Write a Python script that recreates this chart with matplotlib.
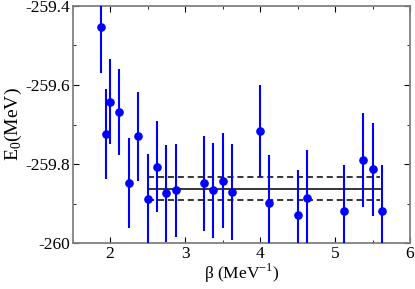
import matplotlib
matplotlib.use("Agg")
import matplotlib.pyplot as plt
from matplotlib.ticker import MultipleLocator

plt.rcParams["font.family"] = ["Liberation Serif", "DejaVu Serif"]
plt.rcParams["mathtext.fontset"] = "custom"
plt.rcParams["mathtext.rm"] = "Liberation Serif"

# beta (MeV^-1), E0 (MeV), symmetric error
beta = [1.875, 1.94, 2.0, 2.125, 2.25, 2.375, 2.5, 2.625, 2.75, 2.875,
        3.25, 3.375, 3.5, 3.625, 4.0, 4.125, 4.5, 4.625, 5.125, 5.375, 5.5, 5.625]
energy = [-259.454, -259.724, -259.642, -259.668, -259.847, -259.730, -259.888, -259.806,
          -259.874, -259.866, -259.848, -259.866, -259.842, -259.870, -259.716, -259.898,
          -259.928, -259.886, -259.918, -259.789, -259.813, -259.918]
err = [0.117, 0.113, 0.108, 0.108, 0.113, 0.113, 0.114, 0.114, 0.122, 0.117,
       0.12, 0.12, 0.12, 0.121, 0.117, 0.12, 0.112, 0.121, 0.117, 0.118, 0.117, 0.117]

fit_range = [2.5, 5.625]
fit_mean = -259.863
fit_band = [-259.833, -259.891]

fig = plt.figure(figsize=(4.15, 2.89), dpi=100)
ax = fig.add_axes([0.1747, 0.158, 0.8133, 0.822])

ax.errorbar(beta, energy, yerr=err, fmt="o", color="#0000ff", ms=5.2,
            elinewidth=1.5, capsize=0, zorder=3)
ax.plot(fit_range, [fit_mean, fit_mean], color="black", lw=1.1, zorder=2)
for b in fit_band:
    ax.plot([fit_range[0], 5.6], [b, b], color="black", lw=1.1, ls=(0, (4, 2.5)), zorder=2)

ax.set_xlim(1.5, 6)
ax.set_ylim(-260, -259.4)
ax.xaxis.set_major_locator(MultipleLocator(1))
ax.xaxis.set_minor_locator(MultipleLocator(0.5))
ax.yaxis.set_major_locator(MultipleLocator(0.2))
ax.yaxis.set_minor_locator(MultipleLocator(0.1))
ax.set_yticklabels([f"{v:g}" for v in ax.get_yticks()])

ax.tick_params(which="both", direction="in", top=True, right=True, labelsize=12.5,
               color="black", pad=2)
ax.tick_params(which="major", length=4)
ax.tick_params(which="minor", length=2.5)
for s in ax.spines.values():
    s.set_color("#808080")
    s.set_linewidth(1.3)

ax.set_xlabel("β (MeV$^{\\mathrm{-1}}$)", fontsize=12.5, labelpad=0)
ax.set_ylabel("E$_{\\mathrm{0}}$(MeV)", fontsize=14, labelpad=1)

fig.savefig("out.png", dpi=100)
